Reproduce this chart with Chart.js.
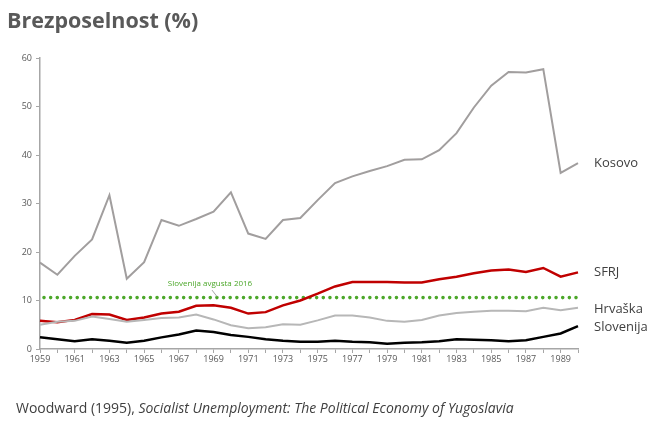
<!DOCTYPE html>
<html>
<head>
<meta charset="utf-8">
<title>Brezposelnost (%)</title>
<script src="https://cdn.jsdelivr.net/npm/chart.js@4/dist/chart.umd.min.js"></script>
<style>
  html, body { margin: 0; padding: 0; background: #fff; }
  #wrap { width: 650px; height: 433px; position: relative; }
</style>
</head>
<body>
<div id="wrap"><canvas id="chart" width="650" height="433"></canvas></div>
<script>
// data (Woodward 1995)
const years = ['1959', '1960', '1961', '1962', '1963', '1964', '1965', '1966', '1967', '1968',
  '1969', '1970', '1971', '1972', '1973', '1974', '1975', '1976', '1977', '1978',
  '1979', '1980', '1981', '1982', '1983', '1984', '1985', '1986', '1987', '1988',
  '1989', '1990'];

const kosovo = [17.8, 15.3, 19.2, 22.6, 31.7, 14.5, 17.9, 26.6, 25.4, 26.8,
  28.3, 32.3, 23.8, 22.7, 26.6, 27.0, 30.7, 34.2, 35.6, 36.7,
  37.7, 39.0, 39.1, 41.0, 44.5, 49.8, 54.3, 57.1, 57.0, 57.7,
  36.3, 38.3];

const sfrj = [5.8, 5.5, 6.0, 7.2, 7.1, 6.0, 6.5, 7.3, 7.7, 8.9,
  9.0, 8.5, 7.3, 7.6, 9.0, 10.0, 11.4, 12.9, 13.8, 13.8,
  13.8, 13.7, 13.7, 14.4, 14.9, 15.6, 16.2, 16.4, 15.9, 16.7,
  14.9, 15.8];

const hrvaska = [5.0, 5.6, 5.8, 6.7, 6.2, 5.6, 6.0, 6.4, 6.5, 7.1,
  6.1, 4.9, 4.3, 4.5, 5.1, 5.0, 5.9, 6.9, 6.9, 6.5,
  5.8, 5.6, 6.0, 6.9, 7.4, 7.7, 7.9, 7.9, 7.8, 8.5,
  8.0, 8.5];

const slovenija = [2.4, 2.0, 1.6, 2.0, 1.7, 1.3, 1.7, 2.4, 3.0, 3.8,
  3.5, 2.9, 2.5, 2.0, 1.7, 1.5, 1.5, 1.7, 1.5, 1.4,
  1.1, 1.3, 1.4, 1.6, 2.0, 1.9, 1.8, 1.6, 1.8, 2.5,
  3.2, 4.7];

const yTicks = [0, 10, 20, 30, 40, 50, 60];
const sloveniaAug2016 = 10.6;
const refLabel = 'Slovenija avgusta 2016';

const FONT = '"Open Sans", "Noto Sans", sans-serif';
const AXIS_GREY = '#a6a6a6';

// series styling + end label nudge (px)
const series = [
  { name: 'Kosovo', data: kosovo, color: '#a19e9e', width: 2, dy: 0 },
  { name: 'Hrvaška', data: hrvaska, color: '#b7b7b7', width: 2, dy: 2 },
  { name: 'SFRJ', data: sfrj, color: '#c00000', width: 2.5, dy: 0 },
  { name: 'Slovenija', data: slovenija, color: '#000000', width: 2.5, dy: 1 }
];

// title, source line, end labels and the 2016 reference line
const decorPlugin = {
  id: 'decor',
  beforeDatasetsDraw(chart) {
    const ctx = chart.ctx;
    const area = chart.chartArea;
    const y = chart.scales.y.getPixelForValue(sloveniaAug2016);
    ctx.save();
    ctx.strokeStyle = '#4ca72a';
    ctx.lineWidth = 3.6;
    ctx.lineCap = 'round';
    ctx.setLineDash([0, 6.65]);
    ctx.beginPath();
    ctx.moveTo(area.left + 4, y);
    ctx.lineTo(area.right, y);
    ctx.stroke();
    ctx.setLineDash([]);

    // leader + label
    ctx.strokeStyle = '#a6a6a6';
    ctx.lineWidth = 1;
    ctx.lineCap = 'butt';
    ctx.beginPath();
    ctx.moveTo(212, y - 7.5);
    ctx.lineTo(217, y - 1);
    ctx.stroke();
    ctx.fillStyle = '#4ca72a';
    ctx.font = '8px ' + FONT;
    ctx.textAlign = 'center';
    ctx.textBaseline = 'middle';
    ctx.fillText(refLabel, 210, y - 14);
    ctx.restore();
  },
  afterDraw(chart) {
    const ctx = chart.ctx;
    const area = chart.chartArea;
    const yScale = chart.scales.y;
    ctx.save();

    ctx.fillStyle = '#595959';
    ctx.font = 'bold 21.5px ' + FONT;
    ctx.textAlign = 'left';
    ctx.textBaseline = 'middle';
    ctx.fillText('Brezposelnost (%)', 7, 22);

    ctx.fillStyle = '#404040';
    ctx.font = '13px ' + FONT;
    series.forEach(s => {
      const last = s.data[s.data.length - 1];
      ctx.fillText(s.name, area.right + 16, yScale.getPixelForValue(last) + s.dy);
    });

    const plain = 'Woodward (1995), ';
    ctx.font = '14px ' + FONT;
    ctx.fillText(plain, 16, 409);
    const w = ctx.measureText(plain).width;
    ctx.font = 'italic 14px ' + FONT;
    ctx.fillText('Socialist Unemployment: The Political Economy of Yugoslavia', 16 + w, 409);
    ctx.restore();
  }
};

const chart = new Chart(document.getElementById('chart'), {
  type: 'line',
  data: {
    labels: years,
    datasets: series.map(s => ({
      label: s.name,
      data: s.data,
      borderColor: s.color,
      borderWidth: s.width,
      pointRadius: 0,
      tension: 0,
      fill: false
    }))
  },
  options: {
    responsive: false,
    animation: false,
    events: [],
    layout: { padding: { top: 58, right: 72, bottom: 0, left: 0 } },
    plugins: {
      legend: { display: false },
      tooltip: { enabled: false },
      title: { display: false }
    },
    scales: {
      x: {
        offset: false,
        border: { color: AXIS_GREY, width: 1.5 },
        grid: { drawOnChartArea: false, drawTicks: true, tickLength: 4, color: AXIS_GREY },
        ticks: {
          autoSkip: false,
          maxRotation: 0,
          padding: 1,
          color: '#595959',
          font: { family: FONT, size: 9 },
          callback: function(value, index) {
            return index % 2 === 0 ? this.getLabelForValue(value) : '';
          }
        },
        afterFit(scale) { scale.height = 84; }
      },
      y: {
        min: 0,
        max: 60,
        border: { color: AXIS_GREY, width: 1.5 },
        grid: { drawOnChartArea: false, drawTicks: true, tickLength: 4, color: AXIS_GREY },
        afterBuildTicks(scale) { scale.ticks = yTicks.map(v => ({ value: v })); },
        ticks: {
          padding: 4,
          color: '#595959',
          font: { family: FONT, size: 9 }
        },
        afterFit(scale) { scale.width = 40; }
      }
    }
  },
  plugins: [decorPlugin]
});
</script>
</body>
</html>
